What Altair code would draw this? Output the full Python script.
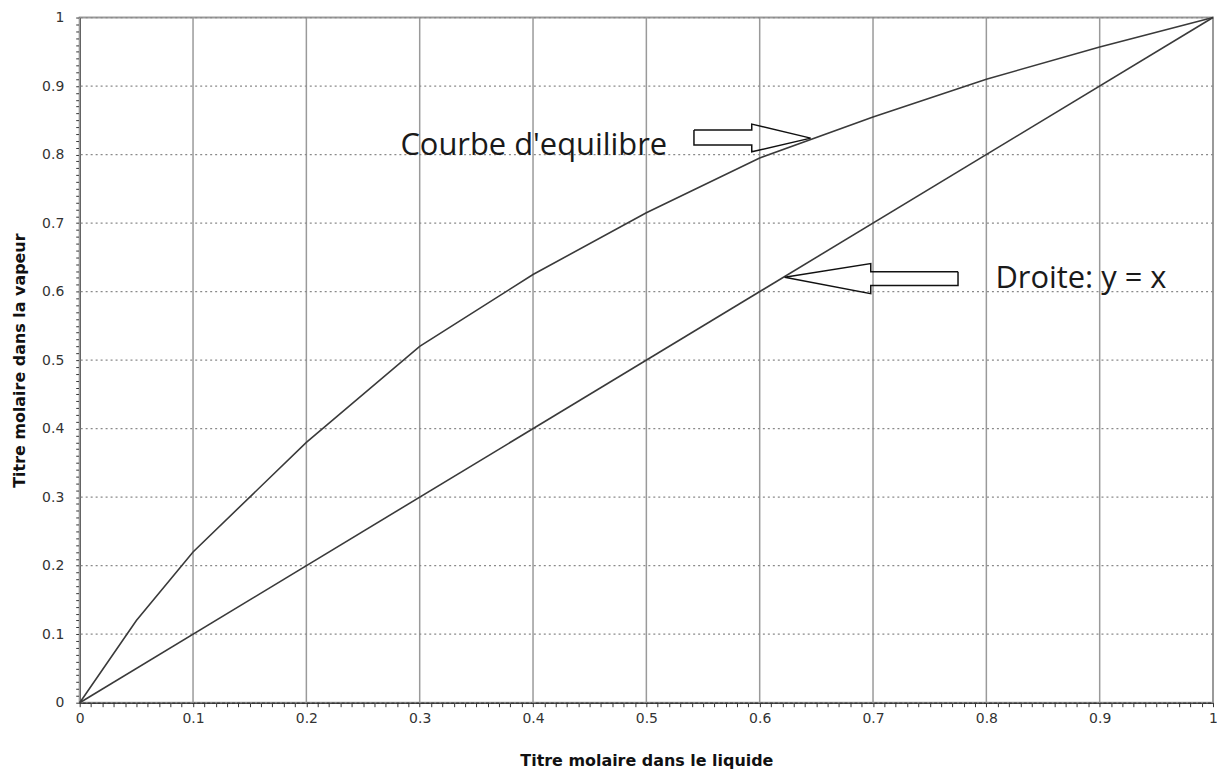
import altair as alt
import pandas as pd

# Data
x_eq = [0, 0.05, 0.1, 0.2, 0.3, 0.4, 0.5, 0.6, 0.7, 0.8, 0.9, 1.0]
y_eq = [0, 0.12, 0.22, 0.38, 0.52, 0.625, 0.715, 0.795, 0.855, 0.91, 0.957, 1.0]
x_diag = [0, 1.0]
y_diag = [0, 1.0]
tick_labels = [0, 0.1, 0.2, 0.3, 0.4, 0.5, 0.6, 0.7, 0.8, 0.9, 1]
minor_ticks = [round(i * 0.01, 2) for i in range(101)]

# annotation arrows (outline polygons, data units)
arrow1_x = [0.542, 0.593, 0.593, 0.645, 0.593, 0.593, 0.542, 0.542]
arrow1_y = [0.836, 0.836, 0.8445, 0.824, 0.804, 0.814, 0.814, 0.836]
arrow2_x = [0.775, 0.698, 0.698, 0.622, 0.698, 0.698, 0.775, 0.775]
arrow2_y = [0.629, 0.629, 0.641, 0.621, 0.597, 0.609, 0.609, 0.629]

labels_text = ["Courbe d'equilibre", "Droite: y = x"]
labels_x = [0.283, 0.808]
labels_y = [0.813, 0.618]

curves = pd.DataFrame(
    [{"x": a, "y": b, "s": "eq", "o": i} for i, (a, b) in enumerate(zip(x_eq, y_eq))]
    + [{"x": a, "y": b, "s": "diag", "o": i} for i, (a, b) in enumerate(zip(x_diag, y_diag))]
)
arrows = pd.DataFrame(
    [{"x": a, "y": b, "s": "a1", "o": i} for i, (a, b) in enumerate(zip(arrow1_x, arrow1_y))]
    + [{"x": a, "y": b, "s": "a2", "o": i} for i, (a, b) in enumerate(zip(arrow2_x, arrow2_y))]
)
texts = pd.DataFrame({"t": labels_text, "x": labels_x, "y": labels_y})
grid_df = pd.DataFrame({"v": tick_labels})

xscale = alt.Scale(domain=[0, 1], nice=False, zero=False)
yscale = alt.Scale(domain=[0, 1], nice=False, zero=False)

font = "DejaVu Sans"
label_expr = "abs(datum.value*10 - round(datum.value*10)) < 0.001 ? format(datum.value, '~g') : ''"

XA = alt.Axis(
    orient="bottom",
    values=minor_ticks, labelExpr=label_expr, title="Titre molaire dans le liquide",
    labelFont=font, labelFontSize=14, labelColor="#333333", titleFont=font, titleFontSize=16,
    titleFontWeight="bold", titleColor="#111111", titlePadding=27,
    grid=False, labelOverlap=False, labelFlush=False,
    domainColor="#333333", domainWidth=1.5, tickColor="#333333", tickSize=4,
    labelPadding=5,
)
YA = alt.Axis(
    orient="left",
    values=minor_ticks, labelExpr=label_expr, title="Titre molaire dans la vapeur",
    labelFont=font, labelFontSize=14, labelColor="#333333", titleFont=font, titleFontSize=16,
    titleFontWeight="bold", titleColor="#111111", titlePadding=14,
    grid=False, labelOverlap=False, labelFlush=False,
    domainColor="#333333", domainWidth=1.5, tickColor="#333333", tickSize=4,
    labelPadding=12,
)


def X(field):
    return alt.X(field, scale=xscale, axis=XA)


def Y(field):
    return alt.Y(field, scale=yscale, axis=YA)


vgrid = alt.Chart(grid_df).mark_rule(color="#9a9a9a", strokeWidth=1.5).encode(x=X("v:Q"))
hgrid = alt.Chart(grid_df).mark_rule(color="#8a8a8a", strokeWidth=1.2, strokeDash=[2, 3]).encode(
    y=Y("v:Q")
)

lines = alt.Chart(curves).mark_line(color="#3a3a3a", strokeWidth=1.6).encode(
    x=X("x:Q"), y=Y("y:Q"), detail="s:N", order="o:Q",
)

arrow_lines = alt.Chart(arrows).mark_line(color="#111111", strokeWidth=1.5).encode(
    x=X("x:Q"), y=Y("y:Q"), detail="s:N", order="o:Q",
)

text_marks = alt.Chart(texts).mark_text(
    align="left", baseline="middle", font="Open Sans", fontSize=31, color="#1a1a1a"
).encode(x=X("x:Q"), y=Y("y:Q"), text="t:N")

chart = alt.layer(vgrid, hgrid, lines, arrow_lines, text_marks).properties(
    width=1138, height=688,
    autosize=alt.AutoSizeParams(type="none"),
    padding={"left": 72, "top": 8, "right": 4, "bottom": 66},
    background="white",
).configure_view(stroke="#9a9a9a", strokeWidth=2)

chart.save("out.html", embed_options={"renderer": "svg", "actions": False})
